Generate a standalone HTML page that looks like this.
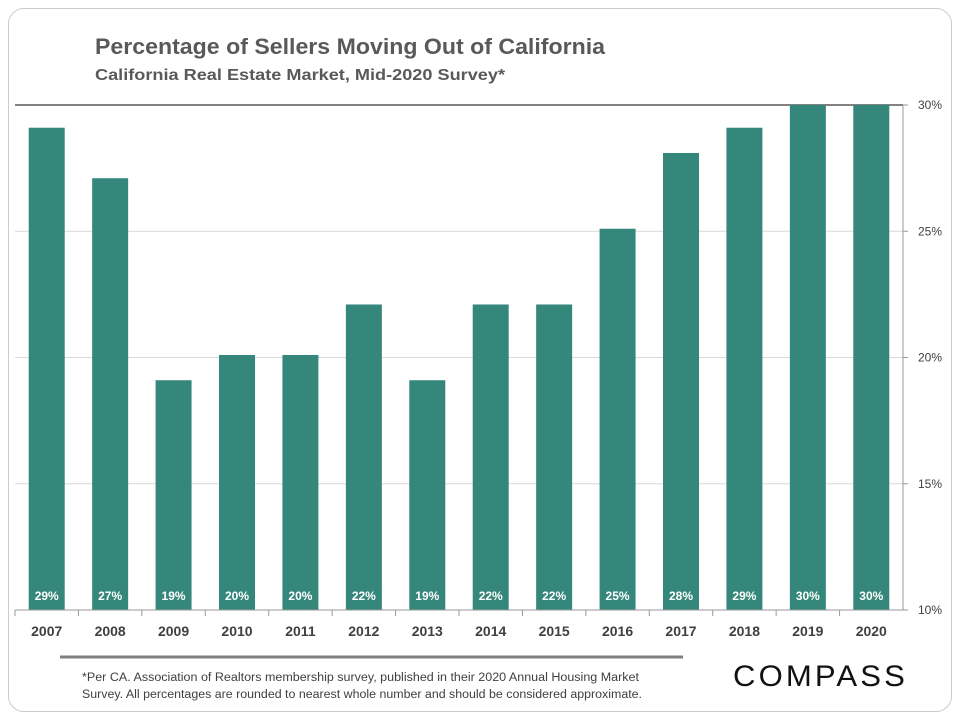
<!DOCTYPE html>
<html><head><meta charset="utf-8"><style>
body{margin:0;background:#fff;width:960px;height:720px;overflow:hidden;font-family:"Liberation Sans",sans-serif}
#card{position:absolute;left:8px;top:8px;width:942px;height:702px;border:1px solid #ccc;border-radius:16px;}
</style></head><body>
<div id="card"></div>
<svg id="chart" width="960" height="720" style="position:absolute;left:0;top:0">
<text x="95" y="54" font-size="22" font-weight="bold" fill="#595959" textLength="510" lengthAdjust="spacingAndGlyphs">Percentage of Sellers Moving Out of California</text>
<text x="95" y="80" font-size="16" font-weight="bold" fill="#595959" textLength="410" lengthAdjust="spacingAndGlyphs">California  Real Estate Market,  Mid-2020 Survey*</text>
<line x1="60" y1="657" x2="683" y2="657" stroke="#7f7f7f" stroke-width="3"/>
<text x="82" y="681" font-size="11.5" fill="#404040" textLength="557" lengthAdjust="spacingAndGlyphs">*Per CA. Association of Realtors membership survey, published in their 2020 Annual Housing Market</text>
<text x="82" y="698" font-size="11.5" fill="#404040" textLength="560" lengthAdjust="spacingAndGlyphs">Survey. All percentages are rounded to nearest whole number and should be considered approximate.</text>
<text x="733" y="686" font-size="30" fill="#111" letter-spacing="3" textLength="175" lengthAdjust="spacingAndGlyphs">COMPASS</text>
<g id="plot"></g>
</svg>
<script>
const categories=["2007","2008","2009","2010","2011","2012","2013","2014","2015","2016","2017","2018","2019","2020"];
const values=[29.1,27.1,19.1,20.1,20.1,22.1,19.1,22.1,22.1,25.1,28.1,29.1,30,30];
const labels=["29%","27%","19%","20%","20%","22%","19%","22%","22%","25%","28%","29%","30%","30%"];
const ticks=[10,15,20,25,30];
const X0=15,X1=903,Y0=610,Y1=105,MIN=10,MAX=30;
const ns="http://www.w3.org/2000/svg";
const g=document.getElementById('plot');
const y=v=>Y0-(v-MIN)/(MAX-MIN)*(Y0-Y1);
const step=(X1-X0)/categories.length;
const xc=i=>X0+step*(i+0.5);
function mk(t,a){const e=document.createElementNS(ns,t);for(const k in a)e.setAttribute(k,a[k]);g.appendChild(e);return e;}
ticks.forEach(t=>{
  const l=mk('line',{x1:X0,x2:X1,y1:y(t),y2:y(t),stroke:t==30?'#595959':'#d9d9d9','stroke-width':t==30?1.5:1});
  
  
  const tx=mk('text',{x:X1+15,y:y(t)+4,'font-size':12,fill:'#404040'});tx.textContent=t+'%';
  
  
  mk('line',{x1:X1,x2:X1+5,y1:y(t),y2:y(t),stroke:'#999'});
});
mk('line',{x1:X1,x2:X1,y1:Y1,y2:Y0,stroke:'#999'});
categories.forEach((c,i)=>{
  const b=mk('rect',{x:xc(i)-18,y:y(values[i]),width:36,height:Y0-y(values[i]),fill:'#36877b'});
  
  
  const v=mk('text',{x:xc(i),y:600,'font-size':12,'font-weight':'bold',fill:'#fff','text-anchor':'middle'});v.textContent=labels[i];
  
  
  const t=mk('text',{x:xc(i),y:636,'font-size':14,'font-weight':'bold',fill:'#404040','text-anchor':'middle'});t.textContent=c;
  
  
  mk('line',{x1:X0+step*i,x2:X0+step*i,y1:Y0,y2:Y0+6,stroke:'#999'});
});
const ax=mk('line',{x1:X0,x2:X1,y1:Y0,y2:Y0,stroke:'#999'});


</script>
</body></html>
